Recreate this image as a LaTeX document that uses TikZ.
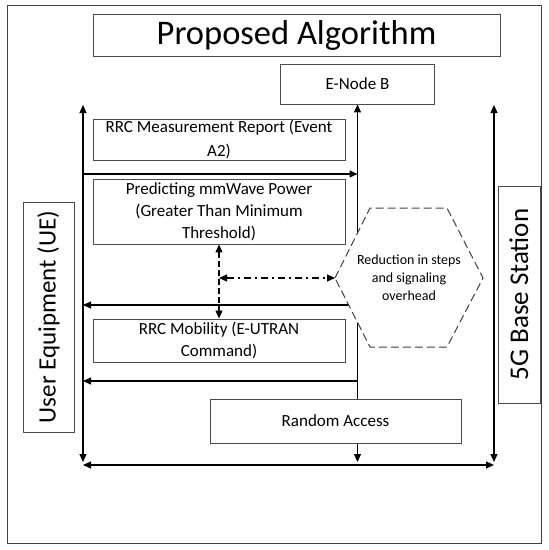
\documentclass[tikz,border=0pt]{standalone}
\usepackage{fontspec}
\setmainfont{Carlito}
\usetikzlibrary{arrows.meta}
\begin{document}
\begin{tikzpicture}[x=1pt,y=-1pt,
  box/.style={draw=black!70, line width=0.9pt, fill=white, inner sep=0pt, align=center},
  conn/.style={line width=1.1pt, -{Triangle[length=8pt,width=7pt]}},
  dbl/.style={line width=1.1pt, {Triangle[length=8pt,width=7pt]}-{Triangle[length=8pt,width=7pt]}},
  dashdbl/.style={line width=1.1pt, dash pattern=on 6pt off 3pt, {Triangle[length=8pt,width=7pt]}-{Triangle[length=8pt,width=7pt]}},
  dashdotdbl/.style={line width=1.1pt, dash pattern=on 7pt off 4pt on 2pt off 4pt, {Triangle[length=8pt,width=7pt]}-{Triangle[length=8pt,width=7pt]}},
  hexstyle/.style={draw=black!75, line width=1pt, dash pattern=on 8pt off 4pt, fill=white},
  boxfont/.style={font=\fontsize{17}{23}\selectfont}
]
\useasboundingbox (0,0) rectangle (549,550);
\draw[black!75, line width=1pt] (7,5) rectangle (541,543);

% coordinates
\coordinate (ltop) at (83,105);
\coordinate (lbot) at (83,462);
\coordinate (rtop) at (494,105);
\coordinate (rbot) at (494,462);
\coordinate (hl) at (83,465);
\coordinate (hr) at (494,465);
\coordinate (mbot) at (357.5,462);
\coordinate (a1s) at (83,174);
\coordinate (a1e) at (357.5,174);
\coordinate (a2s) at (357.5,305);
\coordinate (a2e) at (83,305);
\coordinate (a3s) at (357.5,381);
\coordinate (a3e) at (83,381);

\node[box, minimum width=407pt, minimum height=42pt, font=\fontsize{34.5}{40}\selectfont] (title) at (296.5,35) {Proposed Algorithm};
\node[box, boxfont, minimum width=154pt, minimum height=40pt] (enb) at (357.5,84) {E-Node B};

% main lines
\draw[dbl] (ltop) -- (lbot);
\draw[dbl] (rtop) -- (rbot);
\draw[dbl] (enb.south) -- (mbot);
\draw[dbl] (hl) -- (hr);
\draw[conn] (a1s) -- (a1e);
\draw[conn] (a2s) -- (a2e);
\draw[conn] (a3s) -- (a3e);

% boxes
\node[box, font=\fontsize{17}{24}\selectfont, minimum width=252pt, minimum height=41pt] (meas) at (219,139.5) {RRC Measurement Report (Event\\A2)};
\node[box, font=\fontsize{17}{22}\selectfont, minimum width=252pt, minimum height=65pt] (pred) at (219,211.5) {Predicting mmWave Power\\(Greater Than Minimum\\Threshold)};
\node[box, font=\fontsize{17}{22}\selectfont, minimum width=252pt, minimum height=43pt] (mob) at (219,340.5) {RRC Mobility (E-UTRAN\\Command)};
\node[box, boxfont, minimum width=251pt, minimum height=44pt] (ra) at (335.5,421) {Random Access};
\node[box, rotate=90, font=\fontsize{25}{30}\selectfont, minimum width=230pt, minimum height=51pt] (ue) at (48.5,317) {User Equipment (UE)};
\node[box, rotate=90, font=\fontsize{27}{30}\selectfont, minimum width=217pt, minimum height=42pt] (bs) at (519,294.5) {5G Base Station};

% hexagon
\draw[hexstyle] (335,278) coordinate (hexW) -- (370,208) -- (447,208) -- (483,278) -- (447,347) -- (370,347) -- cycle;
\node[align=center, inner sep=0pt, font=\fontsize{14}{18}\selectfont] (hex) at (409,278) {Reduction in steps\\and signaling\\overhead};

% dashed connectors
\coordinate (dd) at (219,278);
\draw[dashdbl] (pred.south) -- (mob.north);
\draw[dashdotdbl] (dd) -- (hexW);
\end{tikzpicture}
\end{document}
